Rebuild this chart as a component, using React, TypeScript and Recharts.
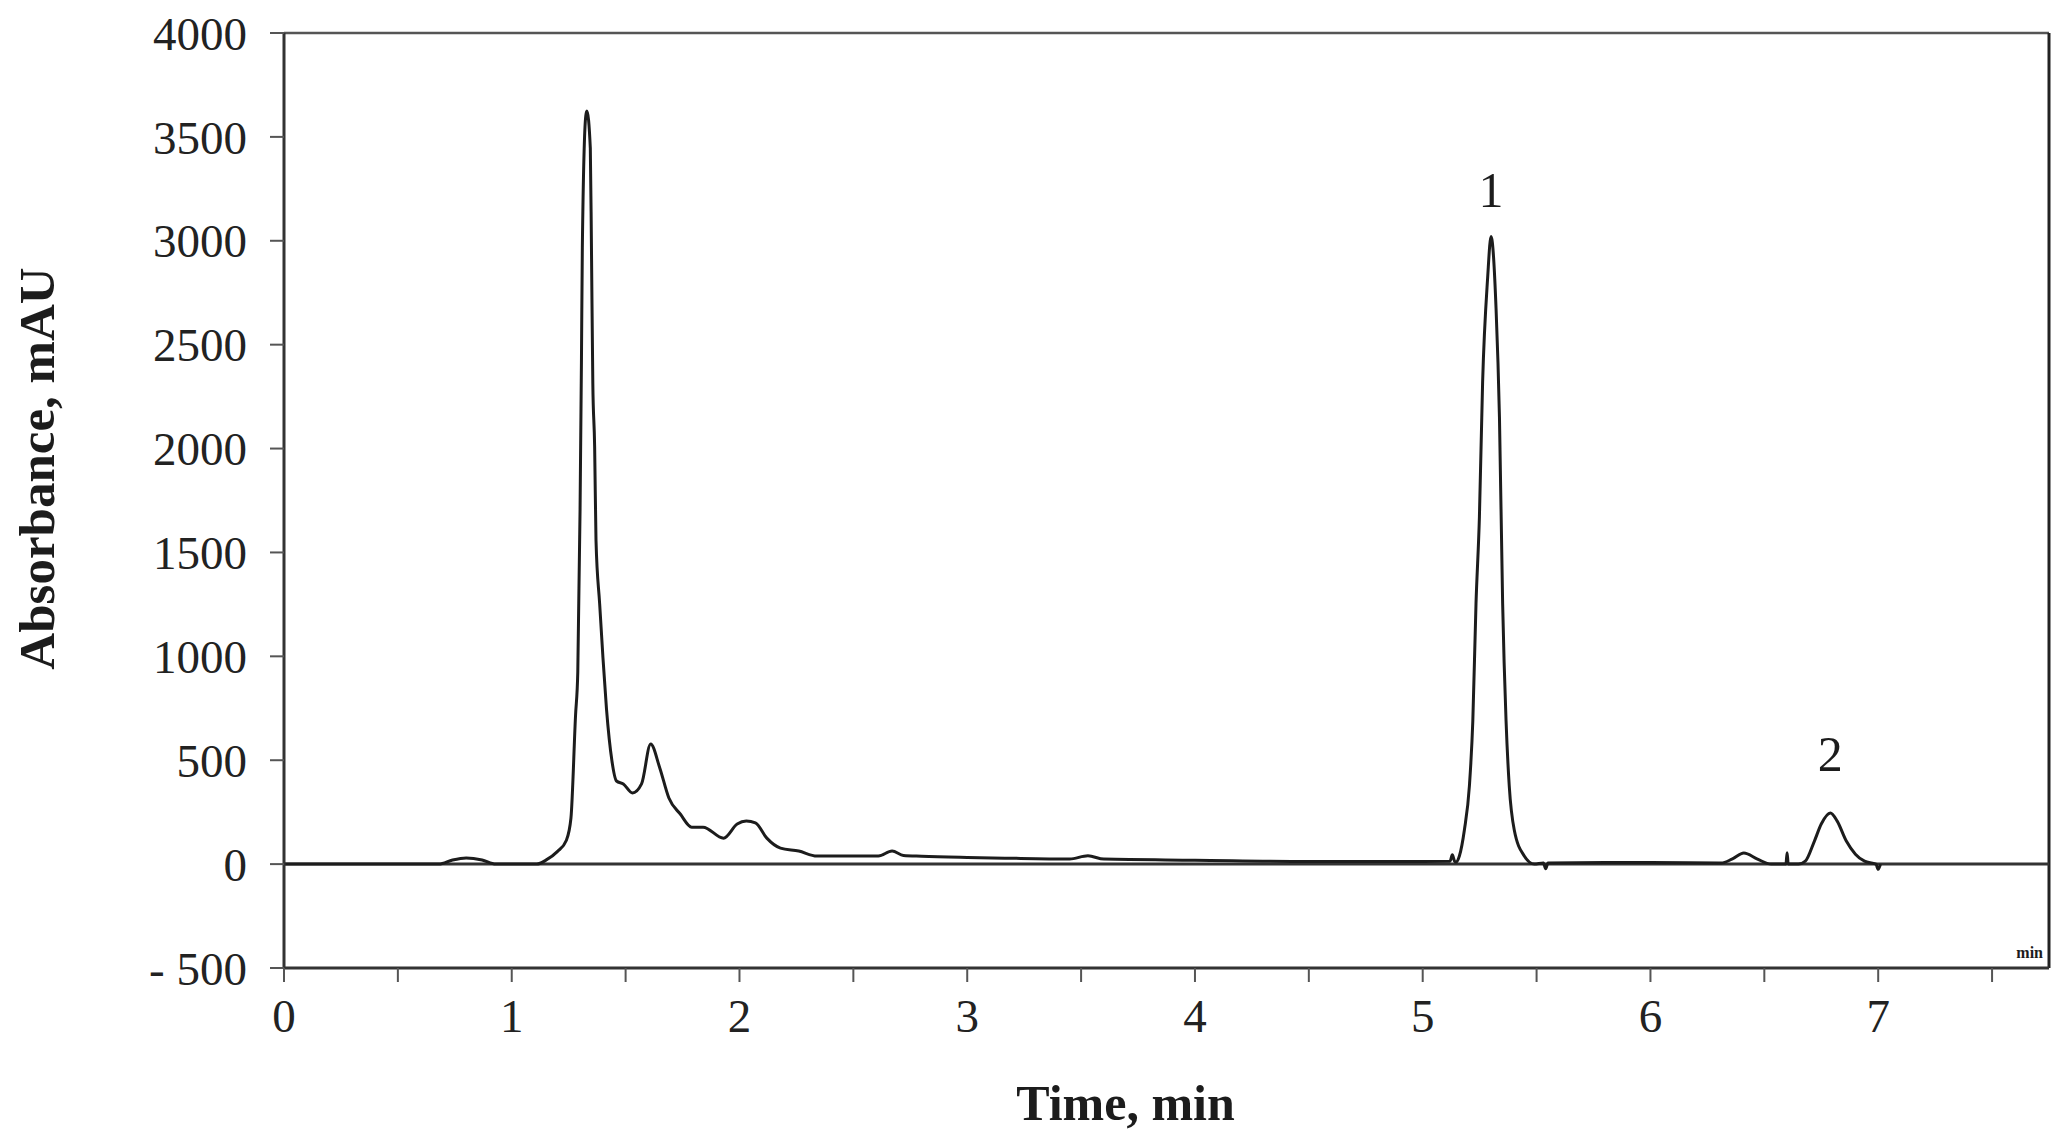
import React from 'react';
import {
  LineChart,
  Line,
  XAxis,
  YAxis,
  ReferenceLine,
  ReferenceDot,
  Label,
} from 'recharts';

// retention time (min) and detector signal (mAU)
const timeMin = [
  0, 0.68, 0.74, 0.8, 0.87, 0.93, 1.11, 1.15, 1.2, 1.24, 1.26, 1.28, 1.29, 1.3, 1.306, 1.31, 1.325, 1.33,
  1.345, 1.35, 1.356, 1.364, 1.37, 1.386, 1.4, 1.416, 1.44, 1.46, 1.49, 1.53, 1.57, 1.61, 1.65, 1.69,
  1.74, 1.79, 1.84, 1.93, 1.99, 2.03, 2.07, 2.12, 2.18, 2.26, 2.34, 2.61, 2.67, 2.72, 2.8, 3.0, 3.2,
  3.45, 3.53, 3.6, 4.0, 4.5, 5.0, 5.12, 5.13, 5.14, 5.146, 5.161, 5.183, 5.205, 5.22, 5.234, 5.249,
  5.263, 5.285, 5.3, 5.322, 5.337, 5.351, 5.366, 5.38, 5.402, 5.446, 5.49, 5.53, 5.54, 5.55, 5.8, 6.0,
  6.31, 6.36, 6.41, 6.47, 6.53, 6.595, 6.6, 6.605, 6.65, 6.68, 6.72, 6.75, 6.79, 6.82, 6.86, 6.9, 6.94,
  6.99, 7.0, 7.01,
];
const absorbance = [
  0, 0, 20, 30, 20, 0, 0, 19, 60, 115, 222, 713, 925, 1706, 2415, 2969, 3600, 3624,
  3446, 2969, 2314, 2010, 1557, 1253, 1002, 747, 496, 400, 386, 342, 386, 578, 463, 318,
  241, 178, 178, 125, 193, 207, 198, 125, 77, 63, 39, 39, 63, 42, 38, 32, 28,
  25, 40, 24, 19, 13, 13, 14, 45, 14, 10, 39, 164, 376, 689, 1253, 1672,
  2318, 2820, 3020, 2675, 2150, 1253, 689, 376, 164, 39, 0, 5, -22, 5, 8, 8,
  5, 25, 53, 24, 0, 0, 55, 0, 0, 14, 111, 193, 246, 207, 111, 48, 14,
  0, -25, 0,
];

const xTicks = [0, 0.5, 1, 1.5, 2, 2.5, 3, 3.5, 4, 4.5, 5, 5.5, 6, 6.5, 7, 7.5];
const yTicks = [-500, 0, 500, 1000, 1500, 2000, 2500, 3000, 3500, 4000];
const xDomain = [0, 7.75];
const yDomain = [-500, 4000];

const peakNames = ['1', '2'];
const peakTimes = [5.3, 6.79];
const peakHeights = [3020, 246];
const peakLabelGap = [30, 42];

const data = timeMin.map((t, i) => ({ t, v: absorbance[i] }));

const FONT = '"Liberation Serif", "Times New Roman", serif';
const INK = '#1c1c1c';

const YTitle = (props: any) => {
  const vb = props.viewBox || { x: 84, y: 33, width: 200, height: 935 };
  const cx = vb.x - 47;
  const cy = vb.y + vb.height / 2 - 32;
  return (
    <text
      x={cx}
      y={cy}
      transform={`rotate(-90, ${cx}, ${cy})`}
      textAnchor="middle"
      dominantBaseline="central"
      fontFamily={FONT}
      fontWeight="bold"
      fontSize={51}
      fill={INK}
    >
      Absorbance, mAU
    </text>
  );
};

const XTitle = (props: any) => {
  const vb = props.viewBox || { x: 284, y: 968, width: 1765, height: 90 };
  return (
    <text
      x={vb.x + vb.width / 2 - 41}
      y={vb.y + 152}
      textAnchor="middle"
      fontFamily={FONT}
      fontWeight="bold"
      fontSize={50}
      fill={INK}
    >
      Time, min
    </text>
  );
};

const UnitTag = (props: any) => {
  const vb = props.viewBox || { x: 0, y: 0 };
  return (
    <text x={vb.x - 6} y={vb.y - 10} textAnchor="end" fontFamily={FONT} fontWeight="bold" fontSize={16} fill={INK}>
      min
    </text>
  );
};

const tickStyle = { fill: '#222', fontSize: 47, fontFamily: FONT };

export default function App() {
  return (
    <div style={{ position: 'absolute', left: 0, top: 0, background: '#fff' }}>
      <LineChart
        width={2063}
        height={1138}
        data={data}
        margin={{ top: 33, right: 14, left: 84, bottom: 80 }}
      >
        <XAxis
          dataKey="t"
          type="number"
          domain={xDomain}
          ticks={xTicks}
          allowDataOverflow
          interval={0}
          height={90}
          axisLine={{ stroke: '#333', strokeWidth: 3 }}
          tickLine={{ stroke: '#555', strokeWidth: 2 }}
          tickSize={14}
          tickMargin={17}
          tick={tickStyle}
          tickFormatter={(v: number) => (Number.isInteger(v) ? String(v) : '')}
        >
          <Label content={XTitle} />
        </XAxis>
        <YAxis
          type="number"
          domain={yDomain}
          ticks={yTicks}
          allowDataOverflow
          interval={0}
          width={200}
          axisLine={{ stroke: '#333', strokeWidth: 3 }}
          tickLine={{ stroke: '#555', strokeWidth: 2 }}
          tickSize={14}
          tickMargin={23}
          tick={tickStyle}
          tickFormatter={(v: number) => (v < 0 ? `- ${Math.abs(v)}` : String(v))}
        >
          <Label content={YTitle} />
        </YAxis>

        <ReferenceLine y={yDomain[1]} stroke="#555" strokeWidth={2.5} />
        <ReferenceLine x={xDomain[1]} stroke="#222" strokeWidth={3} />
        <ReferenceLine y={0} stroke="#333" strokeWidth={3} />

        <Line
          type="monotone"
          dataKey="v"
          stroke={INK}
          strokeWidth={3}
          dot={false}
          isAnimationActive={false}
        />

        {peakNames.map((name, i) => (
          <ReferenceDot
            key={name}
            x={peakTimes[i]}
            y={peakHeights[i]}
            r={0}
            stroke="none"
            ifOverflow="visible"
            label={{
              value: name,
              position: 'top',
              offset: peakLabelGap[i],
              fontSize: 50,
              fontFamily: FONT,
              fill: INK,
            }}
          />
        ))}
        <ReferenceDot x={xDomain[1]} y={yDomain[0]} r={0} stroke="none" ifOverflow="visible" label={<UnitTag />} />
      </LineChart>
    </div>
  );
}
